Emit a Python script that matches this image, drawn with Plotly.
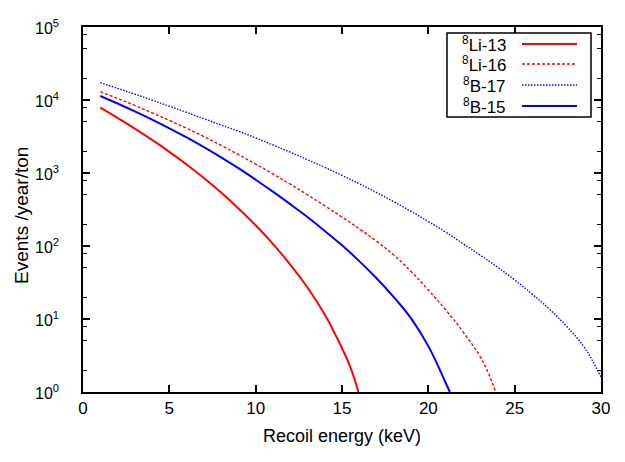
import plotly.graph_objects as go

# Recoil spectra (events / year / ton) for the four source models
energy_li13 = [1, 2, 3, 4, 5, 6, 7, 8, 9, 10, 11, 12, 13, 14, 15, 15.5, 15.95]
events_li13 = [7852, 5689, 4055, 2838, 1950, 1309, 855, 540, 327, 192, 107,
               55.7, 27.0, 11.5, 3.98, 2.14, 1.0]

energy_li16 = [1, 2, 3, 4, 5, 6, 7, 8, 9, 10, 11, 12, 13, 14, 15, 16, 17, 18,
               19, 20, 21, 22, 23, 23.5, 23.9]
events_li16 = [13002, 10495, 8414, 6683, 5260, 4093, 3148, 2388, 1786, 1324,
               971, 703, 502, 356, 249, 172, 116, 75.2, 44.8, 24.9, 13.4, 6.70,
               3.06, 1.76, 1.0]

energy_b17 = [1, 2, 3, 4, 5, 6, 7, 8, 9, 10, 11, 12, 13, 14, 15, 16, 17, 18,
              19, 20, 21, 22, 23, 24, 25, 26, 27, 28, 29, 29.5, 30]
events_b17 = [17258, 14454, 12023, 9977, 8222, 6761, 5546, 4539, 3741, 3020,
              2421, 1928, 1524, 1194, 927, 711, 540, 404, 298, 216, 155, 108,
              75.3, 51.4, 34.3, 22.1, 13.7, 7.98, 4.19, 2.70, 1.59]

energy_b15 = [1, 2, 3, 4, 5, 6, 7, 8, 9, 10, 11, 12, 13, 14, 15, 16, 17, 18,
              19, 20, 21, 21.25]
events_b15 = [11350, 8954, 6982, 5383, 4093, 3069, 2265, 1641, 1164, 809, 555,
              375, 249, 161, 102, 62.1, 36.1, 19.9, 10.2, 4.25, 1.34, 1.0]

series_labels = ["<sup>8</sup>Li-13", "<sup>8</sup>Li-16",
                 "<sup>8</sup>B-17", "<sup>8</sup>B-15"]

x_ticks = [0, 5, 10, 15, 20, 25, 30]
y_decades = [0, 1, 2, 3, 4, 5]
y_ticks = [10 ** k for k in y_decades]
y_ticktext = ["10<sup>%d</sup>" % k for k in y_decades]
y_minor = [m * 10 ** k for k in range(5) for m in (2, 5, 8)]

RED = "#ff0000"
BLUE = "#0000ff"
styles = [
    dict(color=RED, width=2, dash="solid"),
    dict(color=RED, width=1.4, dash="3px,2px"),
    dict(color=BLUE, width=1.4, dash="1.5px,1.5px"),
    dict(color=BLUE, width=2, dash="solid"),
]

data = [
    (energy_li13, events_li13),
    (energy_li16, events_li16),
    (energy_b17, events_b17),
    (energy_b15, events_b15),
]

fig = go.Figure()
for (xs, ys), label, st in zip(data, series_labels, styles):
    fig.add_trace(go.Scatter(
        x=xs, y=ys, mode="lines", name=label,
        line=dict(color=st["color"], width=st["width"], dash=st["dash"],
                  shape="spline", smoothing=1.3),
        showlegend=False,
    ))

FONT = "Liberation Sans, Arial, sans-serif"

shapes = []
annotations = []

# Key box in the upper right: label text followed by a line sample
box = dict(x0=0.7027, x1=0.9807, y0=0.7534, y1=0.9836)
shapes.append(dict(type="rect", xref="paper", yref="paper", **box,
                   line=dict(color="black", width=1.5), fillcolor="white",
                   layer="above"))
row_y = [0.9534, 0.8986, 0.8411, 0.7836]
for label, st, yy in zip(series_labels, styles, row_y):
    annotations.append(dict(
        xref="paper", yref="paper", x=0.8205, y=yy, text=label,
        showarrow=False, xanchor="right", yanchor="middle",
        font=dict(family=FONT, size=17, color="black"),
    ))
    shapes.append(dict(
        type="line", xref="paper", yref="paper", x0=0.8475, x1=0.9537,
        y0=yy, y1=yy, layer="above",
        line=dict(color=st["color"], width=st["width"], dash=st["dash"]),
    ))

# Decade labels of the log axis, set a little further out from the frame
for k, txt in zip(y_decades, y_ticktext):
    annotations.append(dict(
        xref="paper", yref="y", x=-0.043, y=k, text=txt,
        showarrow=False, xanchor="right", yanchor="middle",
        font=dict(family=FONT, size=16, color="black"),
    ))

# Vertical axis title
annotations.append(dict(
    xref="paper", yref="paper", x=-0.1178, y=0.485, text="Events /year/ton",
    textangle=-90, showarrow=False, xanchor="center", yanchor="middle",
    font=dict(family=FONT, size=19, color="black"),
))

axis_common = dict(
    showline=True, linecolor="black", linewidth=2, mirror="ticks",
    ticks="inside", ticklen=7, tickwidth=1.5, tickcolor="black",
    showgrid=False, zeroline=False, automargin=False,
)

fig.update_layout(
    width=625, height=462,
    margin=dict(l=83, r=24, t=27, b=70),
    paper_bgcolor="white", plot_bgcolor="white",
    font=dict(family=FONT, color="black"),
    xaxis=dict(
        range=[0, 30], tickmode="array", tickvals=x_ticks,
        tickfont=dict(family=FONT, size=17, color="black"),
        title=dict(text="Recoil energy (keV)", standoff=12,
                   font=dict(family=FONT, size=18, color="black")),
        **axis_common,
    ),
    yaxis=dict(
        type="log", range=[0, 5], tickmode="array", tickvals=y_ticks,
        showticklabels=False,
        minor=dict(tickmode="array", tickvals=y_minor, ticks="inside",
                   ticklen=4, tickwidth=1.2, tickcolor="black"),
        **axis_common,
    ),
    shapes=shapes,
    annotations=annotations,
)

fig.write_html("out.html")
